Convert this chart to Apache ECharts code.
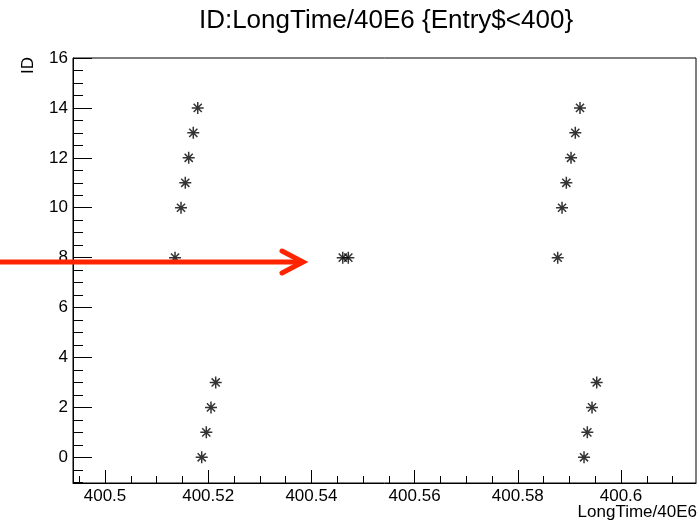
<!DOCTYPE html>
<html>
<head>
<meta charset="utf-8">
<script src="https://cdn.jsdelivr.net/npm/echarts@6/dist/echarts.min.js"></script>
<style>
html,body{margin:0;padding:0;background:#fff}
#chart{width:700px;height:521px}
</style>
</head>
<body>
<div id="chart"></div>
<script>
// LongTime/40E6 vs ID
var longTime = [
	400.51874, 400.51963, 400.52054, 400.52145,
	400.51357, 400.51473, 400.51556, 400.51622, 400.51711, 400.51797,
	400.54607, 400.54715,
	400.59283, 400.59347, 400.59438, 400.59529,
	400.58773, 400.58857, 400.58940, 400.59031, 400.59114, 400.59205
];
var ids = [
	0, 1, 2, 3,
	8, 10, 11, 12, 13, 14,
	8, 8,
	0, 1, 2, 3,
	8, 10, 11, 12, 13, 14
];
var xTickValues = [400.5, 400.52, 400.54, 400.56, 400.58, 400.6];
var xTickLabels = ['400.5', '400.52', '400.54', '400.56', '400.58', '400.6'];
var yTickValues = [0, 2, 4, 6, 8, 10, 12, 14, 16];
var yTickLabels = ['0', '2', '4', '6', '8', '10', '12', '14', '16'];

var xMin = 400.493798, xMax = 400.61453;
var yMin = -1.03, yMax = 16;

// minor ticks, ROOT style (x every 0.005, y every 0.5)
var xMinor = [];
for (var i = 0; i <= 23; i++) xMinor.push(Math.round((400.495 + i * 0.005) * 1e6) / 1e6);
var yMinor = [];
for (var j = -2; j <= 32; j++) yMinor.push(j * 0.5);

var pts = [];
for (var k = 0; k < longTime.length; k++) pts.push([longTime[k], ids[k]]);

var axisFont = {color: '#000', fontSize: 17, fontFamily: 'Liberation Sans'};
var red = '#ff2400';

var myChart = echarts.init(document.getElementById('chart'));
var option = {
	backgroundColor: '#fff',
	animation: false,
	grid: {left: 73, right: 4, top: 58, bottom: 38, show: true, borderColor: '#000', borderWidth: 1, backgroundColor: 'transparent'},
	xAxis: [{
		type: 'value', min: xMin, max: xMax, position: 'bottom',
		axisLine: {show: true, onZero: false, lineStyle: {color: '#000', width: 1}},
		splitLine: {show: false},
		axisTick: {show: true, inside: true, length: 13, customValues: xTickValues, lineStyle: {color: '#000'}},
		axisLabel: {show: true, margin: 5, customValues: xTickValues, textStyle: axisFont,
			formatter: function(v) { var n = xTickValues.indexOf(v); return n >= 0 ? xTickLabels[n] : ''; }}
	}, {
		type: 'value', min: xMin, max: xMax, position: 'bottom', offset: 0,
		axisLine: {show: false, onZero: false},
		splitLine: {show: false},
		axisTick: {show: true, inside: true, length: 7, customValues: xMinor, lineStyle: {color: '#000'}},
		axisLabel: {show: false}
	}],
	yAxis: [{
		type: 'value', min: yMin, max: yMax, position: 'left',
		axisLine: {show: true, onZero: false, lineStyle: {color: '#000', width: 1}},
		splitLine: {show: false},
		axisTick: {show: true, inside: true, length: 19, customValues: yTickValues, lineStyle: {color: '#000'}},
		axisLabel: {show: true, margin: 5, customValues: yTickValues, textStyle: axisFont,
			formatter: function(v) { var n = yTickValues.indexOf(v); return n >= 0 ? yTickLabels[n] : ''; }}
	}, {
		type: 'value', min: yMin, max: yMax, position: 'left', offset: 0,
		axisLine: {show: false, onZero: false},
		splitLine: {show: false},
		axisTick: {show: true, inside: true, length: 10, customValues: yMinor, lineStyle: {color: '#000'}},
		axisLabel: {show: false}
	}],
	series: [{
		type: 'scatter',
		xAxisIndex: 0, yAxisIndex: 0,
		data: pts,
		symbol: 'path://M0,5L10,5M5,0L5,10M1.6,1.6L8.4,8.4M8.4,1.6L1.6,8.4',
		symbolSize: 12,
		itemStyle: {color: 'none', borderColor: '#000', borderWidth: 1.5},
		emphasis: {disabled: true}
	}],
	graphic: [
		{type: 'text', x: 386, y: 8, style: {text: 'ID:LongTime/40E6 {Entry$<400}', fill: '#000', font: '26px "Liberation Sans"', textAlign: 'center', textVerticalAlign: 'top'}},
		{type: 'text', x: 20, y: 57, rotation: Math.PI / 2, style: {text: 'ID', fill: '#000', font: '17px "Liberation Sans"', textAlign: 'right', textVerticalAlign: 'top'}},
		{type: 'text', right: 3, top: 504, style: {text: 'LongTime/40E6', fill: '#000', font: '17px "Liberation Sans"'}},
		{type: 'polyline', shape: {points: [[0, 262], [300, 262]]}, style: {stroke: red, lineWidth: 5, fill: null}, z: 100},
		{type: 'polyline', shape: {points: [[282, 251], [303, 262], [282, 273]]}, style: {stroke: red, lineWidth: 5, fill: null, lineJoin: 'miter', lineCap: 'round'}, z: 100}
	]
};
myChart.setOption(option);
</script>
</body>
</html>
